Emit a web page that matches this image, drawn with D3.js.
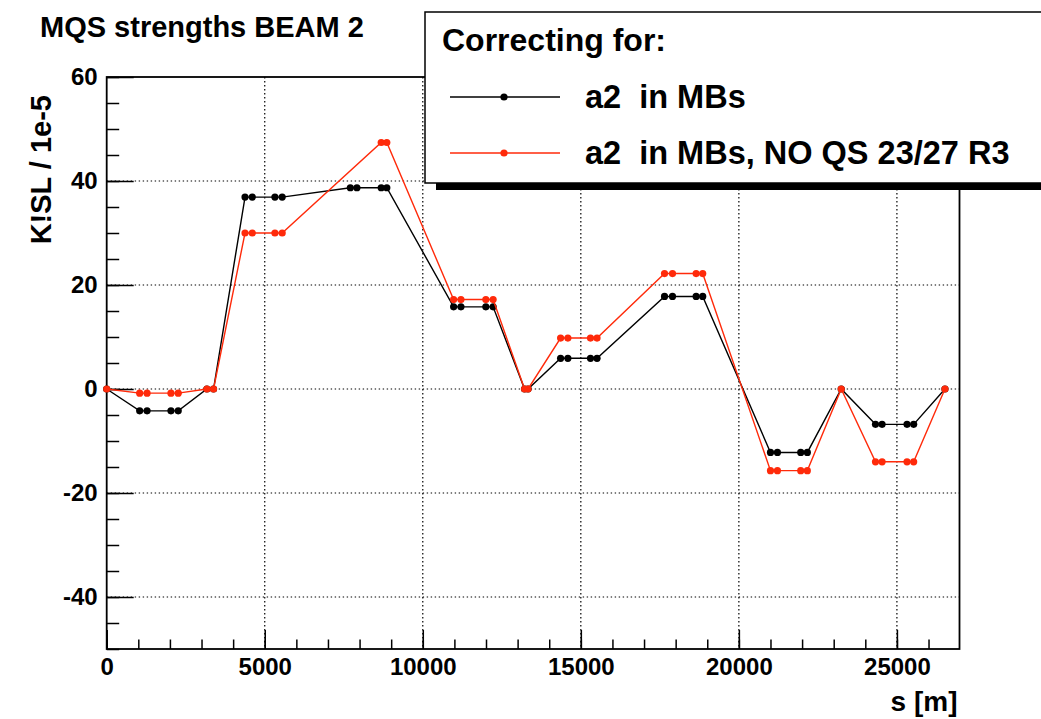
<!DOCTYPE html>
<html><head><meta charset="utf-8">
<script src="https://cdn.jsdelivr.net/npm/d3@7"></script>
<style>
html,body{margin:0;padding:0;background:#fff;}
svg{display:block;}
text{font-family:"Liberation Sans",Arial,Helvetica,sans-serif;font-weight:bold;fill:#000;white-space:pre;}
</style>
</head><body>
<svg id="c" width="1041" height="719"></svg>
<script>
// ---- data ----
const titleText = "MQS strengths BEAM 2";
const legendHeader = "Correcting for:";
const seriesNames = ["a2  in MBs", "a2  in MBs, NO QS 23/27 R3"];
const xLabel = "s [m]";
const yLabel = "K!SL / 1e-5";

const blackX = [0, 1043, 1277, 2033, 2263, 3170, 3380, 4376, 4606, 5322, 5552, 7708, 7916, 8685, 8862,
  10975, 11207, 11995, 12225, 13220, 13330, 14360, 14590, 15306, 15513, 17648, 17900, 18648, 18856,
  21000, 21220, 21957, 22166, 23238, 24322, 24531, 25320, 25530, 26520];
const blackY = [0, -4.2, -4.2, -4.2, -4.2, 0, 0, 36.9, 36.9, 36.9, 36.9, 38.7, 38.7, 38.7, 38.7,
  15.8, 15.8, 15.8, 15.8, 0, 0, 5.9, 5.9, 5.9, 5.9, 17.8, 17.8, 17.8, 17.8,
  -12.2, -12.2, -12.2, -12.2, 0, -6.8, -6.8, -6.8, -6.8, 0];

const redX = [0, 1043, 1277, 2033, 2263, 3170, 3380, 4376, 4606, 5322, 5552, 8685, 8862,
  10975, 11207, 11995, 12225, 13220, 13330, 14360, 14590, 15306, 15513, 17648, 17900, 18648, 18856,
  21000, 21220, 21957, 22166, 23238, 24322, 24531, 25320, 25530, 26520];
const redY = [0, -0.8, -0.8, -0.8, -0.8, 0, 0, 30.0, 30.0, 30.0, 30.0, 47.4, 47.4,
  17.2, 17.2, 17.2, 17.2, 0, 0, 9.8, 9.8, 9.8, 9.8, 22.2, 22.2, 22.2, 22.2,
  -15.7, -15.7, -15.7, -15.7, 0, -14.0, -14.0, -14.0, -14.0, 0];

const xTickValues = [0, 5000, 10000, 15000, 20000, 25000];
const xMinorValues = d3.range(0, 27000, 1000);
const yTickValues = [-40, -20, 0, 20, 40, 60];
const yMinorValues = d3.range(-50, 61, 5);
const xDomain = [0, 26980];
const yDomain = [-50, 60];

// ---- layout ----
const L = 106.7, R = 959.5, T = 77, B = 649;
const svg = d3.select("#c");
const x = d3.scaleLinear().domain(xDomain).range([L, R]);
const y = d3.scaleLinear().domain(yDomain).range([B, T]);
const fmt = d => String(d); // plain hyphen-minus like the original

// grid
const grid = svg.append("g").attr("stroke", "#000").attr("stroke-width", 1.2).attr("stroke-dasharray", "1.4 2.6");
grid.selectAll("line.gx").data(xTickValues.filter(v => v > 0)).join("line")
  .attr("x1", d => x(d)).attr("x2", d => x(d)).attr("y1", T).attr("y2", B);
grid.selectAll("line.gy").data(yTickValues.filter(v => v < 60)).join("line")
  .attr("x1", L).attr("x2", R).attr("y1", d => y(d)).attr("y2", d => y(d));

// axes
const axStyle = g => { g.select(".domain").remove(); g.selectAll("line").attr("stroke", "#000").attr("stroke-width", 1.5); };
const lblStyle = g => g.selectAll("text").attr("font-size", 24).attr("font-family", "Liberation Sans, Arial, sans-serif").attr("font-weight", "bold");
svg.append("g").attr("transform", `translate(0,${B})`)
  .call(d3.axisBottom(x).tickValues(xMinorValues).tickSize(-9.5).tickFormat(""))
  .call(axStyle);
svg.append("g").attr("transform", `translate(0,${B})`)
  .call(d3.axisBottom(x).tickValues(xTickValues).tickSize(-19).tickPadding(9).tickFormat(fmt))
  .call(axStyle).call(lblStyle)
  .call(g => g.selectAll("text").attr("dy", "0.72em"));
svg.append("g").attr("transform", `translate(${L},0)`)
  .call(d3.axisLeft(y).tickValues(yMinorValues).tickSize(-12.5).tickFormat(""))
  .call(axStyle);
svg.append("g").attr("transform", `translate(${L},0)`)
  .call(d3.axisLeft(y).tickValues(yTickValues).tickSize(-27).tickPadding(9).tickFormat(fmt))
  .call(axStyle).call(lblStyle);

// frame
svg.append("rect").attr("x", L).attr("y", T).attr("width", R - L).attr("height", B - T)
  .attr("fill", "none").attr("stroke", "#000").attr("stroke-width", 1.8);

// series
const series = [
  {xs: blackX, ys: blackY, color: "#000000"},
  {xs: redX, ys: redY, color: "#ff2a0a"}
];
const line = d3.line().x(d => x(d[0])).y(d => y(d[1]));
series.forEach(s => {
  const pts = s.xs.map((v, i) => [v, s.ys[i]]);
  svg.append("path").datum(pts).attr("d", line).attr("fill", "none")
    .attr("stroke", s.color).attr("stroke-width", 1.4);
  svg.append("g").selectAll("circle").data(pts).join("circle")
    .attr("cx", d => x(d[0])).attr("cy", d => y(d[1])).attr("r", 3.6).attr("fill", s.color);
});

// title
svg.append("text").attr("x", 40).attr("y", 37).attr("font-size", 29).text(titleText);

// axis titles
svg.append("text").attr("x", R - 2).attr("y", 711).attr("text-anchor", "end").attr("font-size", 28).text(xLabel);
svg.append("text").attr("transform", "translate(51,95) rotate(-90)").attr("text-anchor", "end")
  .attr("font-size", 29).text(yLabel);

// legend
const lg = svg.append("g");
lg.append("rect").attr("x", 436).attr("y", 20).attr("width", 700).attr("height", 170).attr("fill", "#000");
lg.append("rect").attr("x", 425).attr("y", 12).attr("width", 700).attr("height", 171)
  .attr("fill", "#fff").attr("stroke", "#000").attr("stroke-width", 1.5);
lg.append("text").attr("x", 442).attr("y", 51).attr("font-size", 32).text(legendHeader);
const legendY = [97, 153];
series.forEach((s, i) => {
  lg.append("line").attr("x1", 450).attr("x2", 560).attr("y1", legendY[i]).attr("y2", legendY[i])
    .attr("stroke", s.color).attr("stroke-width", 1.5);
  lg.append("circle").attr("cx", 504).attr("cy", legendY[i]).attr("r", 3.6).attr("fill", s.color);
  lg.append("text").attr("x", 585).attr("y", legendY[i] + 11).attr("font-size", 32.5).text(seriesNames[i]);
});
</script>
</body></html>
